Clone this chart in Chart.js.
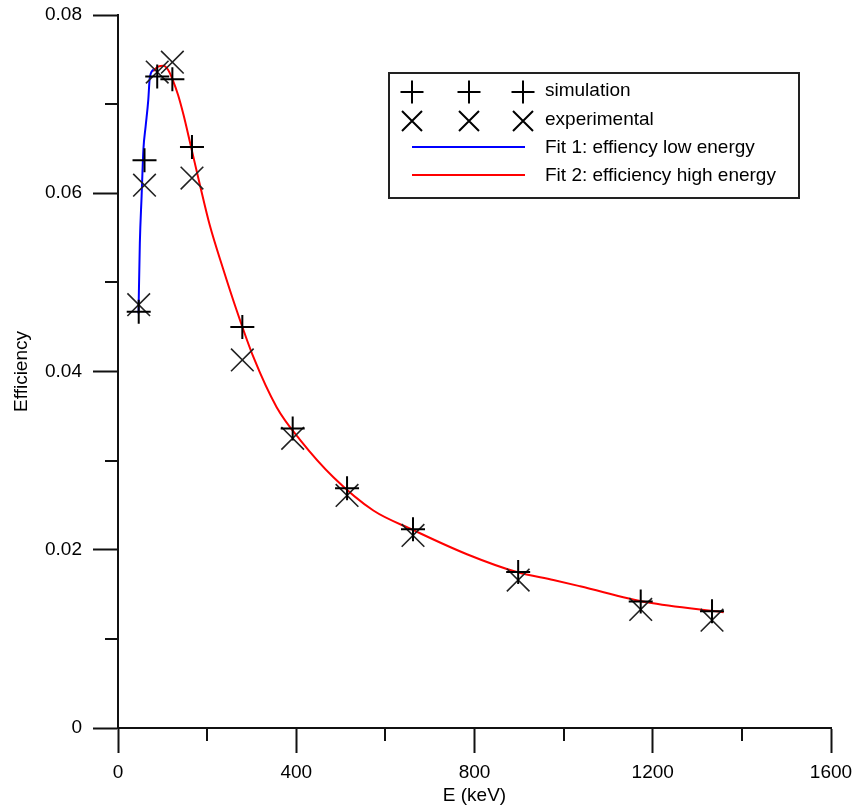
<!DOCTYPE html>
<html>
<head>
<meta charset="utf-8">
<script src="https://cdn.jsdelivr.net/npm/chart.js@4.4.0/dist/chart.umd.min.js"></script>
<style>
  html, body { margin: 0; padding: 0; background: #fff; }
  canvas { display: block; }
</style>
</head>
<body>
<canvas id="myChart" width="855" height="811"></canvas>
<script>
// Dados
var energies = [46.5, 59.5, 88, 122, 166, 279, 392, 514, 662, 898, 1173, 1333];
var simulation = [0.0467, 0.0637, 0.0731, 0.0728, 0.0652, 0.0450, 0.0336, 0.0269, 0.0223, 0.0175, 0.0142, 0.0131];
var experimental = [0.0475, 0.0609, 0.0736, 0.0747, 0.0617, 0.0413, 0.0325, 0.0261, 0.0216, 0.0166, 0.0133, 0.0121];

// Fit 1 (baixa energia)
var fit1E = [46, 49, 53, 57, 62, 68, 71, 79];
var fit1Y = [0.0465, 0.0544, 0.0597, 0.0649, 0.0675, 0.0705, 0.0728, 0.0739];

// Fit 2 (alta energia)
var fit2E = [79, 90, 102, 113, 123, 135, 147, 163, 184, 206, 236, 266, 304, 356, 409, 484, 573, 663, 783, 895, 977, 1037, 1187, 1359];
var fit2Y = [0.0737, 0.0742, 0.0743, 0.0738, 0.0727, 0.0710, 0.0688, 0.0654, 0.0609, 0.0564, 0.0515, 0.0469, 0.0416, 0.0360, 0.0323, 0.0281, 0.0244, 0.0222, 0.0195, 0.0175, 0.0166, 0.0159, 0.0141, 0.0130];

var xTicks = ['0', '400', '800', '1200', '1600'];
var yTicks = ['0', '0.02', '0.04', '0.06', '0.08'];

var fontFamily = "'Liberation Sans', Arial, sans-serif";

function pairs(xs, ys) {
    return xs.map(function (x, i) { return { x: x, y: ys[i] }; });
}

// ticks menores (200, 600... e 0.01, 0.03...)
var minorTicks = {
    id: 'minorTicks',
    afterDraw: function (chart) {
        var ctx = chart.ctx, xs = chart.scales.x, ys = chart.scales.y;
        ctx.save();
        ctx.strokeStyle = '#111';
        ctx.lineWidth = 2;
        ctx.beginPath();
        xs.ticks.forEach(function (t) {
            if (Math.round(t.value) % 400 !== 0) {
                var px = Math.round(xs.getPixelForValue(t.value));
                ctx.moveTo(px, xs.top);
                ctx.lineTo(px, xs.top + 13);
            }
        });
        ys.ticks.forEach(function (t) {
            if (Math.round(t.value * 100) % 2 !== 0) {
                var py = Math.round(ys.getPixelForValue(t.value));
                ctx.moveTo(ys.right, py);
                ctx.lineTo(ys.right - 13, py);
            }
        });
        ctx.stroke();
        ctx.restore();
    }
};

function plus(ctx, x, y, r) {
    ctx.moveTo(x - r, y); ctx.lineTo(x + r, y);
    ctx.moveTo(x, y - r); ctx.lineTo(x, y + r);
}
function cross(ctx, x, y, r) {
    ctx.moveTo(x - r, y - r); ctx.lineTo(x + r, y + r);
    ctx.moveTo(x + r, y - r); ctx.lineTo(x - r, y + r);
}

// legenda desenhada à mão
var boxLegend = {
    id: 'boxLegend',
    afterDraw: function (chart) {
        var ctx = chart.ctx;
        ctx.save();
        ctx.fillStyle = '#fff';
        ctx.fillRect(389, 73, 410, 125);
        ctx.strokeStyle = '#222';
        ctx.lineWidth = 2;
        ctx.strokeRect(389, 73, 410, 125);

        ctx.strokeStyle = '#000';
        ctx.lineWidth = 2;
        ctx.beginPath();
        [412, 469, 523].forEach(function (x) {
            plus(ctx, x, 92, 11.5);
            cross(ctx, x, 121, 10);
        });
        ctx.stroke();

        ctx.lineWidth = 2;
        ctx.strokeStyle = '#0000ff';
        ctx.beginPath(); ctx.moveTo(412, 147); ctx.lineTo(525, 147); ctx.stroke();
        ctx.strokeStyle = '#ff0000';
        ctx.beginPath(); ctx.moveTo(412, 175); ctx.lineTo(525, 175); ctx.stroke();

        ctx.fillStyle = '#000';
        ctx.font = '19px ' + fontFamily;
        ctx.textBaseline = 'middle';
        ctx.textAlign = 'left';
        ctx.fillText('simulation', 545, 91);
        ctx.fillText('experimental', 545, 120);
        ctx.fillText('Fit 1: effiency low energy', 545, 148);
        ctx.fillText('Fit 2: efficiency high energy', 545, 176);
        ctx.restore();
    }
};

var config = {
    type: 'scatter',
    data: {
        datasets: [{
            label: 'simulation',
            data: pairs(energies, simulation),
            pointStyle: 'cross',
            pointRadius: 12,
            pointBorderWidth: 2,
            borderColor: '#000',
            pointBorderColor: '#000',
            backgroundColor: 'rgba(0,0,0,0)',
            order: 0
        }, {
            label: 'experimental',
            data: pairs(energies, experimental),
            pointStyle: 'crossRot',
            pointRadius: 16,
            pointBorderWidth: 1.6,
            borderColor: '#222',
            pointBorderColor: '#222',
            backgroundColor: 'rgba(0,0,0,0)',
            order: 0
        }, {
            label: 'Fit 1: effiency low energy',
            data: pairs(fit1E, fit1Y),
            showLine: true,
            borderColor: '#0000ff',
            borderWidth: 2,
            pointRadius: 0,
            tension: 0.4,
            cubicInterpolationMode: 'monotone',
            order: 1
        }, {
            label: 'Fit 2: efficiency high energy',
            data: pairs(fit2E, fit2Y),
            showLine: true,
            borderColor: '#ff0000',
            borderWidth: 2,
            pointRadius: 0,
            tension: 0.4,
            cubicInterpolationMode: 'monotone',
            order: 1
        }]
    },
    options: {
        responsive: false,
        animation: false,
        devicePixelRatio: 1,
        layout: { autoPadding: false, padding: { left: 0, top: 15, right: 24, bottom: 0 } },
        plugins: {
            legend: { display: false },
            tooltip: { enabled: false }
        },
        scales: {
            x: {
                type: 'linear',
                min: 0,
                max: 1600,
                afterFit: function (s) {
                    s.height = 83;
                    s.paddingLeft = 0;
                    s.paddingRight = 0;
                },
                border: { color: '#111', width: 2 },
                grid: {
                    drawOnChartArea: false,
                    drawTicks: true,
                    tickLength: 25,
                    tickWidth: 2,
                    tickColor: function (c) {
                        return c.tick && Math.round(c.tick.value) % 400 === 0 ? '#111' : 'rgba(0,0,0,0)';
                    }
                },
                ticks: {
                    stepSize: 200,
                    maxRotation: 0,
                    autoSkip: false,
                    padding: 8,
                    color: '#000',
                    font: { family: fontFamily, size: 19 },
                    callback: function (v) {
                        return Math.round(v) % 400 === 0 ? xTicks[Math.round(v) / 400] : '';
                    }
                },
                title: {
                    display: true,
                    text: 'E (keV)',
                    color: '#000',
                    font: { family: fontFamily, size: 19 },
                    padding: { top: 0, bottom: 4 }
                }
            },
            y: {
                type: 'linear',
                min: 0,
                max: 0.08,
                afterFit: function (s) {
                    s.width = 118;
                    s.paddingTop = 0;
                    s.paddingBottom = 0;
                },
                border: { color: '#111', width: 2 },
                grid: {
                    drawOnChartArea: false,
                    drawTicks: true,
                    tickLength: 25,
                    tickWidth: 2,
                    tickColor: function (c) {
                        return c.tick && Math.round(c.tick.value * 100) % 2 === 0 ? '#111' : 'rgba(0,0,0,0)';
                    }
                },
                ticks: {
                    stepSize: 0.01,
                    autoSkip: false,
                    padding: 11,
                    color: '#000',
                    font: { family: fontFamily, size: 19 },
                    callback: function (v) {
                        var k = Math.round(v * 100);
                        return k % 2 === 0 ? yTicks[k / 2] : '';
                    }
                },
                title: {
                    display: true,
                    text: 'Efficiency',
                    color: '#000',
                    font: { family: fontFamily, size: 19 },
                    padding: { top: 10, bottom: 0 }
                }
            }
        }
    },
    plugins: [minorTicks, boxLegend]
};

var ctx = document.getElementById('myChart').getContext('2d');
new Chart(ctx, config);
</script>
</body>
</html>
